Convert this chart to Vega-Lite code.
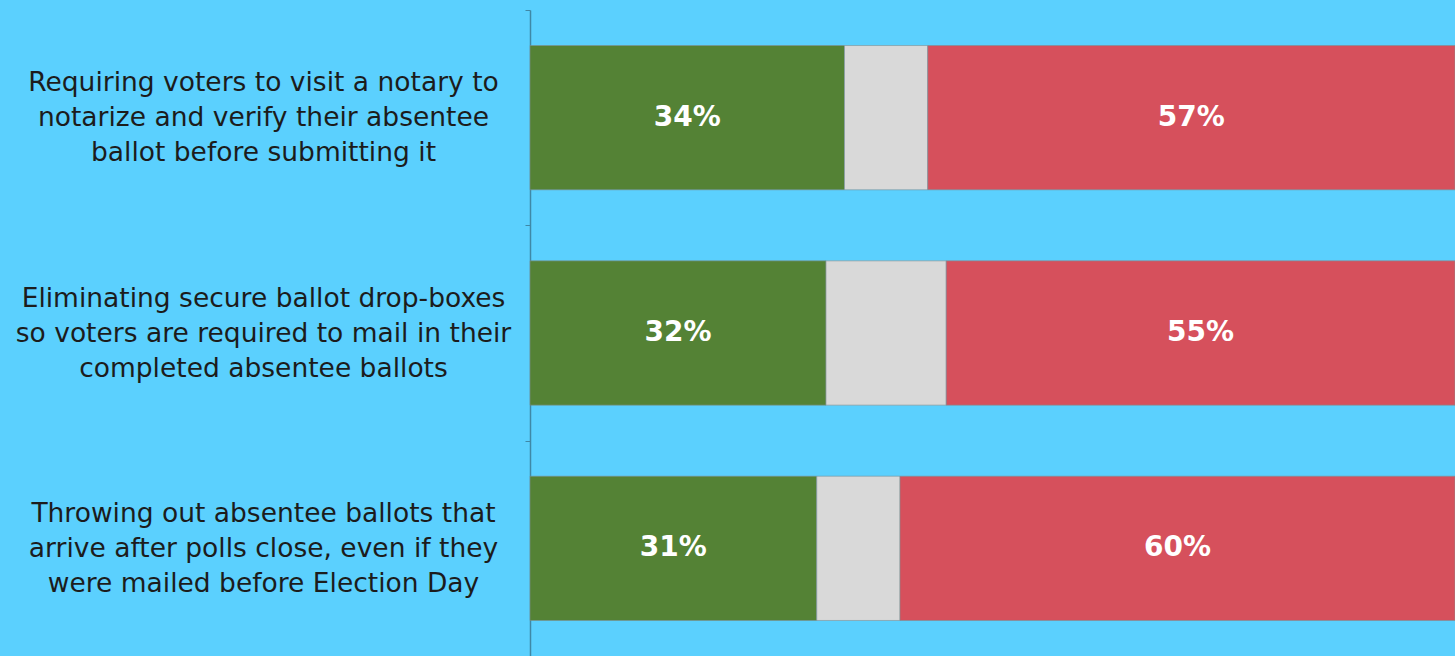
{
  "$schema": "https://vega.github.io/schema/vega-lite/v6.json",
  "autosize": {"type": "none"},
  "padding": {"left": 530, "top": 10, "right": 0, "bottom": 0},
  "width": 925,
  "height": 646,
  "background": "#5BD0FE",
  "config": {"view": {"stroke": null}},
  "data": {
    "values": [
      {"q": "Requiring voters to visit a notary to\nnotarize and verify their absentee\nballot before submitting it", "rank": 1, "cat": "Support", "ord": 1, "pct": 34, "label": "34%"},
      {"q": "Requiring voters to visit a notary to\nnotarize and verify their absentee\nballot before submitting it", "rank": 1, "cat": "Unsure", "ord": 2, "pct": 9, "label": ""},
      {"q": "Requiring voters to visit a notary to\nnotarize and verify their absentee\nballot before submitting it", "rank": 1, "cat": "Oppose", "ord": 3, "pct": 57, "label": "57%"},
      {"q": "Eliminating secure ballot drop-boxes\nso voters are required to mail in their\ncompleted absentee ballots", "rank": 2, "cat": "Support", "ord": 1, "pct": 32, "label": "32%"},
      {"q": "Eliminating secure ballot drop-boxes\nso voters are required to mail in their\ncompleted absentee ballots", "rank": 2, "cat": "Unsure", "ord": 2, "pct": 13, "label": ""},
      {"q": "Eliminating secure ballot drop-boxes\nso voters are required to mail in their\ncompleted absentee ballots", "rank": 2, "cat": "Oppose", "ord": 3, "pct": 55, "label": "55%"},
      {"q": "Throwing out absentee ballots that\narrive after polls close, even if they\nwere mailed before Election Day", "rank": 3, "cat": "Support", "ord": 1, "pct": 31, "label": "31%"},
      {"q": "Throwing out absentee ballots that\narrive after polls close, even if they\nwere mailed before Election Day", "rank": 3, "cat": "Unsure", "ord": 2, "pct": 9, "label": ""},
      {"q": "Throwing out absentee ballots that\narrive after polls close, even if they\nwere mailed before Election Day", "rank": 3, "cat": "Oppose", "ord": 3, "pct": 60, "label": "60%"}
    ]
  },
  "transform": [
    {"stack": "pct", "groupby": ["q"], "sort": [{"field": "ord", "order": "ascending"}], "as": ["x0", "x1"]}
  ],
  "encoding": {
    "y": {
      "field": "q",
      "type": "nominal",
      "sort": {"field": "rank", "op": "min", "order": "ascending"},
      "scale": {"paddingInner": 0.33, "paddingOuter": 0.165},
      "axis": {
        "title": null,
        "labelExpr": "split(datum.label, '\\n')",
        "labelAlign": "center",
        "labelBaseline": "middle",
        "labelPadding": 262,
        "labelFont": "DejaVu Sans",
        "labelFontSize": 26.5,
        "labelLineHeight": 35,
        "labelColor": "#1c1c1c",
        "labelLimit": 0,
        "tickOffset": -107.67,
        "labelOffset": 72.67,
        "tickSize": 5,
        "tickColor": "#3F88A6",
        "domainColor": "#3F88A6",
        "domainWidth": 1.5,
        "grid": false
      }
    }
  },
  "layer": [
    {
      "mark": {"type": "bar", "stroke": "#7f8f95", "strokeWidth": 1, "strokeOpacity": 0.6},
      "encoding": {
        "x": {"field": "x0", "type": "quantitative", "scale": {"domain": [0, 100], "nice": false}, "axis": null},
        "x2": {"field": "x1"},
        "color": {
          "field": "cat",
          "type": "nominal",
          "scale": {"domain": ["Support", "Unsure", "Oppose"], "range": ["#548235", "#D9D9D9", "#D6505C"]},
          "legend": null
        }
      }
    },
    {
      "mark": {"type": "text", "font": "DejaVu Sans", "fontWeight": "bold", "fontSize": 28, "color": "#ffffff", "align": "center", "baseline": "middle", "dx": {"expr": "datum.pct * 4.625"}},
      "encoding": {
        "x": {"field": "x0", "type": "quantitative"},
        "text": {"field": "label", "type": "nominal"}
      }
    }
  ]
}
